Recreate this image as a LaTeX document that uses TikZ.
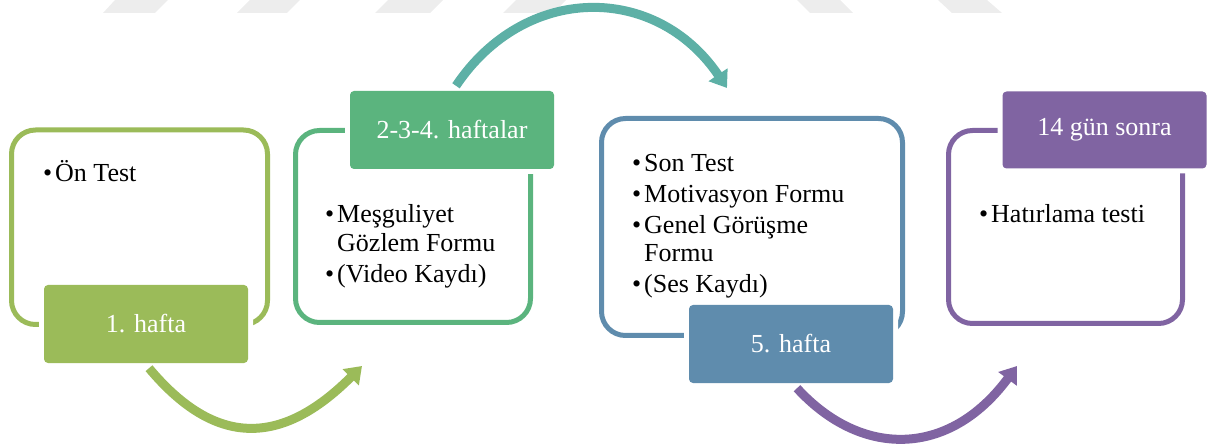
\documentclass[tikz,border=0pt]{standalone}
\usepackage{fontspec}
\setmainfont{Liberation Serif}
\usetikzlibrary{arrows.meta,calc}
\definecolor{gA}{HTML}{9BBB59}
\definecolor{gB}{HTML}{5BB47E}
\definecolor{tealC}{HTML}{5DB0A6}
\definecolor{blueD}{HTML}{5F8CAD}
\definecolor{purpE}{HTML}{8064A2}
\definecolor{wmark}{HTML}{EDEDED}
\newcommand{\itembul}{\llap{\textbullet\kern3pt}}
\tikzset{
  outbox/.style={draw=#1, line width=5pt, rounded corners=24pt, inner sep=0pt, fill=none},
  labelbox/.style={fill=#1, rounded corners=4pt, minimum width=204pt, minimum height=78pt, inner sep=0pt,
     text=white, font=\fontsize{26pt}{30pt}\selectfont,
     preaction={draw=white, line width=10pt}},
  bodytext/.style={anchor=base west, inner sep=0pt, font=\fontsize{26pt}{30pt}\selectfont, text=black},
  flowarrow/.style={draw=#1, line width=9pt, -{Triangle[length=16pt,width=22pt]}}
}
\begin{document}
\begin{tikzpicture}[x=1pt,y=-1pt]
\useasboundingbox (0,0) rectangle (1213,446);
% faint watermark
\fill[wmark] (103,13)--(155,13)--(168,0)--(115,0)--cycle;
\fill[wmark] (237,13)--(287,13)--(300,0)--(250,0)--cycle;
\fill[wmark] (375,13)--(430,13)--(443,0)--(388,0)--cycle;
\fill[wmark] (503,13)--(553,13)--(566,0)--(516,0)--cycle;
\fill[wmark] (797,0)--(840,0)--(853,13)--(810,13)--cycle;
\fill[wmark] (938,0)--(987,0)--(1002,13)--(952,13)--cycle;

% outline boxes
\node[outbox=gA, minimum width=256pt, minimum height=194.5pt] (B1) at (139.5,227.25) {};
\node[outbox=gB, minimum width=235pt, minimum height=192pt] (B2) at (413,226.5) {};
\node[outbox=blueD, minimum width=301pt, minimum height=217pt] (B3) at (752,227) {};
\node[outbox=purpE, minimum width=234pt, minimum height=193pt] (B4) at (1065.5,227) {};

% labels
\node[labelbox=gA] (L1) at (146,324) {1. hafta};
\node[labelbox=gB] (L2) at (452,130) {2-3-4. haftalar};
\node[labelbox=blueD] (L3) at (791,344) {5. hafta};
\node[labelbox=purpE, minimum height=77pt] (L4) at (1104.5,130) {14 gün sonra};

% body texts
\node[bodytext] (t1) at (55,182) {\itembul Ön Test};
\node[bodytext] (t2a) at (337,223) {\itembul Meşguliyet};
\node[bodytext] (t2b) at (337,252) {Gözlem Formu};
\node[bodytext] (t2c) at (337,283) {\itembul (Video Kaydı)};
\node[bodytext] (t3a) at (644,172) {\itembul Son Test};
\node[bodytext] (t3b) at (644,203) {\itembul Motivasyon Formu};
\node[bodytext] (t3c) at (644,234) {\itembul Genel Görüşme};
\node[bodytext] (t3d) at (644,262) {Formu};
\node[bodytext] (t3e) at (644,293) {\itembul (Ses Kaydı)};
\node[bodytext] (t4) at (991,223) {\itembul Hatırlama testi};

% arrow end points
\coordinate (e1) at (362,366);
\coordinate (e2) at (727,88);
\coordinate (e3) at (1017,366);

% curved arrows
\draw[flowarrow=gA] ($(L1.south)+(3,5)$) .. controls (215,447) and (281,447) .. (e1);
\draw[flowarrow=tealC] ($(L2.north)+(4,-5)$) .. controls (525,-17) and (656,-17) .. (e2);
\draw[flowarrow=purpE] ($(L3.south)+(6,5)$) .. controls (861,458) and (949,458) .. (e3);
\end{tikzpicture}
\end{document}
